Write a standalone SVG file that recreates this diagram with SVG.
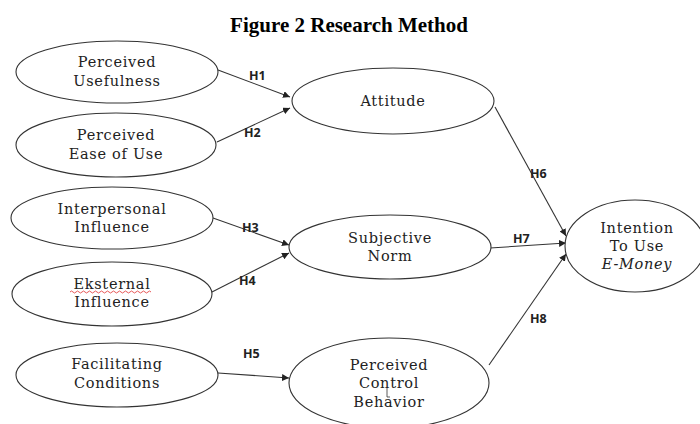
<svg xmlns="http://www.w3.org/2000/svg" width="700" height="424" viewBox="0 0 700 424">
<style>
.node ellipse{fill:#fff;stroke:#333;stroke-width:1.1}
.lbl{font-family:"DejaVu Serif","Liberation Serif",serif;font-size:14.5px;letter-spacing:0.7px;fill:#222;text-anchor:middle}
.h{font-family:"Open Sans","Liberation Sans",sans-serif;font-weight:bold;font-size:12.5px;fill:#222}
.edge{stroke:#333;stroke-width:1.1;fill:none;marker-end:url(#arr)}
.title{font-family:"Liberation Serif",serif;font-weight:bold;font-size:21px;fill:#000;text-anchor:middle}
</style>
<defs>
<marker id="arr" viewBox="0 0 10 10" refX="10" refY="5" markerWidth="7" markerHeight="7" markerUnits="userSpaceOnUse" orient="auto">
<path d="M0,0 L10,5 L0,10 Z" fill="#222"/>
</marker>
</defs>
<rect width="700" height="424" fill="#fff"/>
<text class="title" x="349" y="32">Figure 2 Research Method</text>

<g id="connectors">
<path class="edge" d="M218,70 L290,97"/>
<path class="edge" d="M217,142 L290,108"/>
<path class="edge" d="M213,218 L289,245"/>
<path class="edge" d="M212,292 L289,253"/>
<path class="edge" d="M218,373 L289,378"/>
<path class="edge" d="M495,107 L566,236"/>
<path class="edge" d="M490,248 L566,243"/>
<path class="edge" d="M489,365 L566,254"/>
<text class="h" x="249" y="80">H1</text>
<text class="h" x="244" y="137">H2</text>
<text class="h" x="242" y="232">H3</text>
<text class="h" x="239" y="285">H4</text>
<text class="h" x="243" y="358">H5</text>
<text class="h" x="530" y="178">H6</text>
<text class="h" x="513" y="243">H7</text>
<text class="h" x="530" y="323">H8</text>
</g>

<g id="perceived-usefulness" class="node">
<ellipse cx="117" cy="72" rx="101" ry="31"/>
<text class="lbl" x="117" y="67">Perceived</text>
<text class="lbl" x="117" y="86">Usefulness</text>
</g>
<g id="perceived-ease" class="node">
<ellipse cx="116" cy="145" rx="100" ry="32"/>
<text class="lbl" x="116" y="140">Perceived</text>
<text class="lbl" x="116" y="159">Ease of Use</text>
</g>
<g id="attitude" class="node">
<ellipse cx="393" cy="101" rx="101" ry="33"/>
<text class="lbl" x="393" y="106">Attitude</text>
</g>
<g id="interpersonal" class="node">
<ellipse cx="112" cy="218" rx="101" ry="31"/>
<text class="lbl" x="112" y="214">Interpersonal</text>
<text class="lbl" x="112" y="232">Influence</text>
</g>
<g id="eksternal" class="node">
<ellipse cx="112" cy="294" rx="100" ry="32"/>
<text class="lbl" x="112" y="289">Eksternal</text>
<text class="lbl" x="112" y="307">Influence</text>
<path d="M70,292 q1.5,-2 3,0 t3,0 t3,0 t3,0 t3,0 t3,0 t3,0 t3,0 t3,0 t3,0 t3,0 t3,0 t3,0 t3,0 t3,0 t3,0 t3,0 t3,0 t3,0 t3,0 t3,0 t3,0 t3,0 t3,0 t3,0 t3,0 t3,0" fill="none" stroke="#e03030" stroke-width="0.8"/>
</g>
<g id="facilitating" class="node">
<ellipse cx="117" cy="375" rx="101" ry="32"/>
<text class="lbl" x="117" y="369">Facilitating</text>
<text class="lbl" x="117" y="388">Conditions</text>
</g>
<g id="subjective-norm" class="node">
<ellipse cx="390" cy="247" rx="101" ry="32"/>
<text class="lbl" x="390" y="243">Subjective</text>
<text class="lbl" x="390" y="261">Norm</text>
</g>
<g id="pcb" class="node">
<ellipse cx="389" cy="383" rx="100" ry="45"/>
<text class="lbl" x="389" y="370">Perceived</text>
<text class="lbl" x="389" y="388">Control</text>
<text class="lbl" x="389" y="407">Behavior</text>
<path d="M387,388 L387,397 L390,397" fill="none" stroke="#333" stroke-width="0.8"/>
</g>
<g id="intention" class="node">
<ellipse cx="635" cy="246" rx="70" ry="46"/>
<text class="lbl" x="637" y="233">Intention</text>
<text class="lbl" x="637" y="251">To Use</text>
<text class="lbl" x="637" y="269" font-style="italic">E-Money</text>
</g>
</svg>
